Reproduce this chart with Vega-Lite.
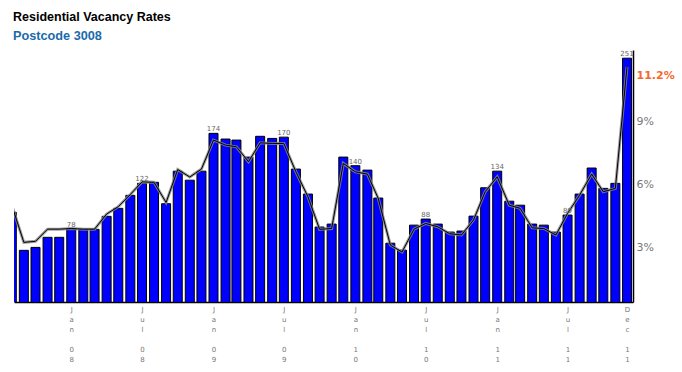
{
  "$schema": "https://vega.github.io/schema/vega-lite/v6.json",
  "autosize": {"type": "none"},
  "width": 619,
  "height": 252,
  "padding": {"left": 14, "top": 50, "right": 49, "bottom": 70},
  "background": "white",
  "title": {
    "text": "Residential Vacancy Rates",
    "subtitle": "Postcode 3008",
    "anchor": "start",
    "frame": "group",
    "font": "Liberation Sans",
    "fontSize": 12.5,
    "fontWeight": "bold",
    "color": "#000000",
    "subtitleFont": "Liberation Sans",
    "subtitleFontSize": 12.7,
    "subtitleFontWeight": "bold",
    "subtitleColor": "#1a6aab",
    "subtitlePadding": 7,
    "offset": 7,
    "dx": -1
  },
  "config": {
    "view": {"stroke": null},
    "axis": {"grid": false, "ticks": false}
  },
  "data": {
    "values": [
      {"month": "2007-08-01", "rate": 4.67, "avg": 5.0},
      {"month": "2007-09-01", "rate": 2.86, "avg": 3.24},
      {"month": "2007-10-01", "rate": 3.0, "avg": 3.29},
      {"month": "2007-11-01", "rate": 3.48, "avg": 3.87},
      {"month": "2007-12-01", "rate": 3.48, "avg": 3.87},
      {"month": "2008-01-01", "rate": 3.89, "avg": 3.9, "n": 78},
      {"month": "2008-02-01", "rate": 3.86, "avg": 3.87},
      {"month": "2008-03-01", "rate": 3.86, "avg": 3.87},
      {"month": "2008-04-01", "rate": 4.48, "avg": 4.59},
      {"month": "2008-05-01", "rate": 4.86, "avg": 4.94},
      {"month": "2008-06-01", "rate": 5.48, "avg": 5.52},
      {"month": "2008-07-01", "rate": 6.05, "avg": 6.12, "n": 122},
      {"month": "2008-08-01", "rate": 6.1, "avg": 6.1},
      {"month": "2008-09-01", "rate": 5.08, "avg": 5.14},
      {"month": "2008-10-01", "rate": 6.63, "avg": 6.71},
      {"month": "2008-11-01", "rate": 6.2, "avg": 6.35},
      {"month": "2008-12-01", "rate": 6.63, "avg": 6.73},
      {"month": "2009-01-01", "rate": 8.43, "avg": 8.11, "n": 174},
      {"month": "2009-02-01", "rate": 8.16, "avg": 7.87},
      {"month": "2009-03-01", "rate": 8.11, "avg": 7.79},
      {"month": "2009-04-01", "rate": 7.3, "avg": 7.08},
      {"month": "2009-05-01", "rate": 8.29, "avg": 7.98},
      {"month": "2009-06-01", "rate": 8.19, "avg": 7.95},
      {"month": "2009-07-01", "rate": 8.25, "avg": 7.95, "n": 170},
      {"month": "2009-08-01", "rate": 6.73, "avg": 6.6},
      {"month": "2009-09-01", "rate": 5.54, "avg": 5.41},
      {"month": "2009-10-01", "rate": 3.97, "avg": 3.86},
      {"month": "2009-11-01", "rate": 4.11, "avg": 3.9},
      {"month": "2009-12-01", "rate": 7.3, "avg": 7.0},
      {"month": "2010-01-01", "rate": 6.89, "avg": 6.6, "n": 140},
      {"month": "2010-02-01", "rate": 6.68, "avg": 6.49},
      {"month": "2010-03-01", "rate": 5.35, "avg": 5.33},
      {"month": "2010-04-01", "rate": 3.2, "avg": 3.11},
      {"month": "2010-05-01", "rate": 2.87, "avg": 2.78},
      {"month": "2010-06-01", "rate": 4.06, "avg": 3.87},
      {"month": "2010-07-01", "rate": 4.35, "avg": 4.14, "n": 88},
      {"month": "2010-08-01", "rate": 4.11, "avg": 3.98},
      {"month": "2010-09-01", "rate": 3.73, "avg": 3.65},
      {"month": "2010-10-01", "rate": 3.78, "avg": 3.59},
      {"month": "2010-11-01", "rate": 4.49, "avg": 4.3},
      {"month": "2010-12-01", "rate": 5.84, "avg": 5.65},
      {"month": "2011-01-01", "rate": 6.63, "avg": 6.36, "n": 134},
      {"month": "2011-02-01", "rate": 5.2, "avg": 5.01},
      {"month": "2011-03-01", "rate": 5.01, "avg": 4.86},
      {"month": "2011-04-01", "rate": 4.11, "avg": 3.93},
      {"month": "2011-05-01", "rate": 4.06, "avg": 3.9},
      {"month": "2011-06-01", "rate": 3.73, "avg": 3.59},
      {"month": "2011-07-01", "rate": 4.54, "avg": 4.62, "n": 89},
      {"month": "2011-08-01", "rate": 5.54, "avg": 5.49},
      {"month": "2011-09-01", "rate": 6.78, "avg": 6.49},
      {"month": "2011-10-01", "rate": 5.81, "avg": 5.65},
      {"month": "2011-11-01", "rate": 6.05, "avg": 5.81},
      {"month": "2011-12-01", "rate": 12.01, "avg": 11.6, "n": 251}
    ]
  },
  "encoding": {
    "x": {
      "field": "month",
      "type": "temporal",
      "title": null,
      "scale": {
        "type": "utc",
        "nice": false,
        "padding": 0,
        "domain": [
          {"year": 2007, "month": 8, "date": 6, "hours": 16, "utc": true},
          {"year": 2011, "month": 12, "date": 16, "hours": 10, "utc": true}
        ]
      },
      "axis": {
        "values": [
          {"year": 2008, "month": 1, "date": 1, "utc": true},
          {"year": 2008, "month": 7, "date": 1, "utc": true},
          {"year": 2009, "month": 1, "date": 1, "utc": true},
          {"year": 2009, "month": 7, "date": 1, "utc": true},
          {"year": 2010, "month": 1, "date": 1, "utc": true},
          {"year": 2010, "month": 7, "date": 1, "utc": true},
          {"year": 2011, "month": 1, "date": 1, "utc": true},
          {"year": 2011, "month": 7, "date": 1, "utc": true},
          {"year": 2011, "month": 12, "date": 1, "utc": true}
        ],
        "labelExpr": "split(utcFormat(datum.value, '%b\u200b%y'), '')",
        "labelFont": "DejaVu Sans",
        "labelFontSize": 7,
        "labelLineHeight": 10,
        "labelColor": "#777777",
        "labelPadding": 3,
        "labelBaseline": "top",
        "labelOverlap": false,
        "labelFlush": false,
        "domainColor": "#000000",
        "domainWidth": 1.5
      }
    },
    "y": {
      "type": "quantitative",
      "scale": {"domain": [0.4, 12.4], "zero": false, "nice": false},
      "title": null
    }
  },
  "layer": [
    {
      "mark": {"type": "bar", "size": 9, "fill": "#0000ff", "stroke": "#000000", "strokeWidth": 1, "clip": true},
      "encoding": {
        "y": {
          "field": "rate",
          "type": "quantitative",
          "scale": {"domain": [0.4, 12.4], "zero": false, "nice": false},
          "title": null,
          "axis": {
            "orient": "right",
            "values": [3, 6, 9, 11.2],
            "labelExpr": "datum.value + '%'",
            "labelFont": "DejaVu Sans",
            "labelFontSize": 11,
            "labelColor": {"condition": {"test": "datum.value == 11.2", "value": "#f5692c"}, "value": "#777777"},
            "labelFontWeight": {"condition": {"test": "datum.value == 11.2", "value": "bold"}, "value": "normal"},
            "labelPadding": 3,
            "domainColor": "#000000",
            "domainWidth": 1.5
          }
        }
      }
    },
    {
      "mark": {"type": "line", "stroke": "#888888", "strokeWidth": 3, "opacity": 0.8, "clip": true},
      "encoding": {"y": {"field": "avg", "type": "quantitative"}}
    },
    {
      "mark": {"type": "line", "stroke": "#000000", "strokeWidth": 1, "clip": true},
      "encoding": {"y": {"field": "avg", "type": "quantitative"}}
    },
    {
      "transform": [{"filter": "isValid(datum.n)"}],
      "mark": {"type": "text", "font": "DejaVu Sans", "fontSize": 7, "color": "#666666", "baseline": "bottom", "dy": -1},
      "encoding": {
        "y": {"field": "rate", "type": "quantitative"},
        "text": {"field": "n", "type": "quantitative"}
      }
    }
  ]
}
